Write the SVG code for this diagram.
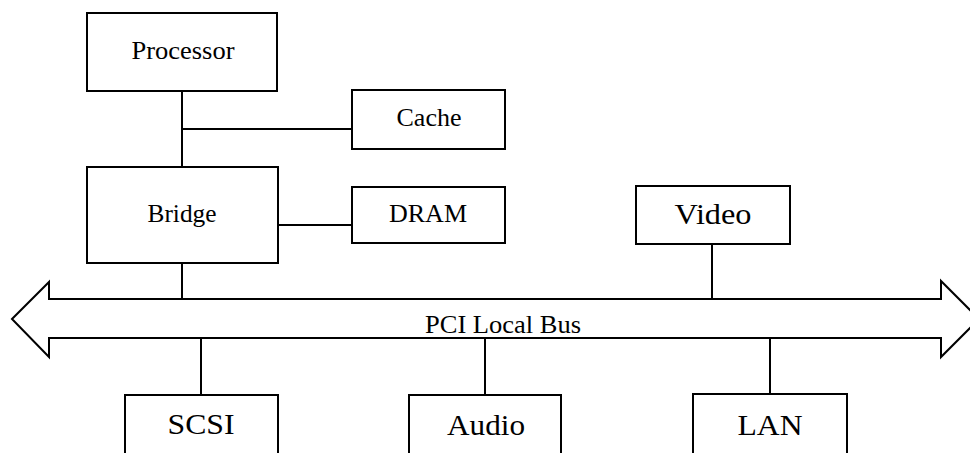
<svg xmlns="http://www.w3.org/2000/svg" width="970" height="453" viewBox="0 0 970 453">
<style>
.box{fill:#fff;stroke:#000;stroke-width:2}
.lbl{font-family:"Liberation Serif","DejaVu Serif","Noto Serif",Tinos,"Times New Roman",Times,serif;fill:#000;text-anchor:middle}
.ln{stroke:#000;stroke-width:2;fill:none}
</style>
<rect width="970" height="453" fill="#fff"/>
<g id="connectors">
<line class="ln" x1="182" y1="91" x2="182" y2="167"/>
<line class="ln" x1="182" y1="129" x2="352" y2="129"/>
<line class="ln" x1="278" y1="225" x2="352" y2="225"/>
<line class="ln" x1="182" y1="263" x2="182" y2="299"/>
<line class="ln" x1="712" y1="244" x2="712" y2="299"/>
<line class="ln" x1="201" y1="338" x2="201" y2="395"/>
<line class="ln" x1="485" y1="338" x2="485" y2="395"/>
<line class="ln" x1="770" y1="338" x2="770" y2="394"/>
</g>
<g id="bus">
<polygon points="12,319 49,282 49,299 941,299 941,281 979,319 941,357 941,338 49,338 49,357" fill="none" stroke="#000" stroke-width="2"/>
<text class="lbl" x="503" y="333" font-size="25" textLength="156" lengthAdjust="spacingAndGlyphs">PCI Local Bus</text>
</g>
<g id="processor">
<rect class="box" x="87" y="13" width="190" height="78"/>
<text class="lbl" x="183" y="59" font-size="26" textLength="103" lengthAdjust="spacingAndGlyphs">Processor</text>
</g>
<g id="cache">
<rect class="box" x="352" y="90" width="153" height="59"/>
<text class="lbl" x="429" y="126" font-size="26" textLength="65" lengthAdjust="spacingAndGlyphs">Cache</text>
</g>
<g id="bridge">
<rect class="box" x="87" y="167" width="191" height="96"/>
<text class="lbl" x="182" y="222" font-size="26" textLength="69" lengthAdjust="spacingAndGlyphs">Bridge</text>
</g>
<g id="dram">
<rect class="box" x="352" y="187" width="153" height="56"/>
<text class="lbl" x="428" y="222" font-size="26" textLength="78" lengthAdjust="spacingAndGlyphs">DRAM</text>
</g>
<g id="video">
<rect class="box" x="636" y="186" width="154" height="58"/>
<text class="lbl" x="713" y="224" font-size="30" textLength="77" lengthAdjust="spacingAndGlyphs">Video</text>
</g>
<g id="scsi">
<rect class="box" x="125" y="395" width="153" height="70"/>
<text class="lbl" x="201" y="434" font-size="30" textLength="67" lengthAdjust="spacingAndGlyphs">SCSI</text>
</g>
<g id="audio">
<rect class="box" x="409" y="395" width="152" height="70"/>
<text class="lbl" x="486" y="435" font-size="30" textLength="78" lengthAdjust="spacingAndGlyphs">Audio</text>
</g>
<g id="lan">
<rect class="box" x="693" y="394" width="154" height="70"/>
<text class="lbl" x="770" y="435" font-size="30" textLength="65" lengthAdjust="spacingAndGlyphs">LAN</text>
</g>
</svg>
